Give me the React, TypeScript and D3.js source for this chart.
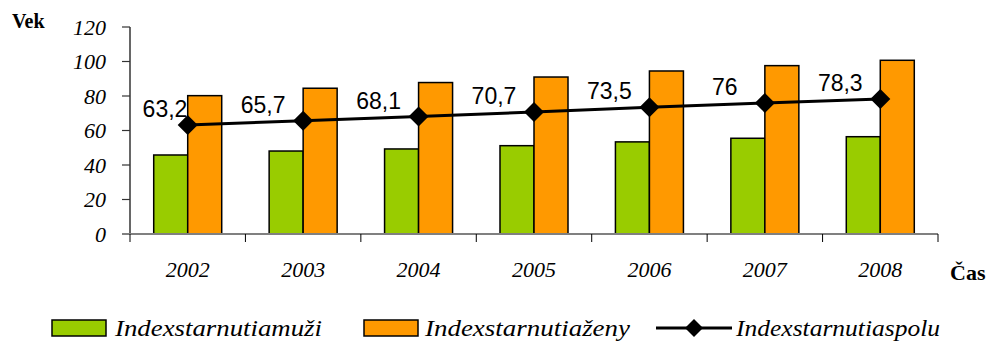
import React from "react";
import * as d3 from "d3";

const years = ["2002", "2003", "2004", "2005", "2006", "2007", "2008"];
const muzi = [45.8, 48.1, 49.3, 51.2, 53.4, 55.5, 56.4];
const zeny = [80.2, 84.5, 87.8, 91.0, 94.5, 97.6, 100.7];
const spolu = [63.2, 65.7, 68.1, 70.7, 73.5, 76, 78.3];
const spoluLabels = ["63,2", "65,7", "68,1", "70,7", "73,5", "76", "78,3"];
const yTicks = [0, 20, 40, 60, 80, 100, 120];
const seriesNames = ["Indexstarnutiamuži", "Indexstarnutiaženy", "Indexstarnutiaspolu"];

const W = 993;
const H = 342;
const x0 = 130;
const x1 = 938;
const yTop = 27;
const yBot = 234;
const GREEN = "#99CC00";
const ORANGE = "#FF9900";
const SERIF =
  '"Times New Roman", Times, Tinos, "Liberation Serif", "Noto Serif", "DejaVu Serif", FreeSerif, "Nimbus Roman", "Nimbus Roman No9 L", serif';
const SANS = '"Liberation Sans", Arial, sans-serif';

const serifItalic = { fontFamily: SERIF, fontStyle: "italic" as const };
const serifBold = { fontFamily: SERIF, fontWeight: 700 as const };

export default function App() {
  const x = d3.scaleBand<string>().domain(years).range([x0, x1]).padding(0);
  const y = d3.scaleLinear().domain([0, 120]).range([yBot, yTop]);
  const bw = 34;
  const line = d3
    .line<number>()
    .x((_, i) => (x(years[i]) as number) + x.bandwidth() / 2)
    .y((d) => y(d));
  const diamond = (cx: number, cy: number, r: number) =>
    `M${cx},${cy - r}L${cx + r},${cy}L${cx},${cy + r}L${cx - r},${cy}Z`;

  const boundaries = years.map((yr) => x(yr) as number).concat([x1]);

  return (
    <svg
      width={W}
      height={H}
      style={{ position: "absolute", left: 0, top: 0, background: "#fff" }}
    >
      {/* y axis */}
      <line x1={x0} x2={x0} y1={yTop} y2={yBot} stroke="#000" strokeWidth={1.2} />
      {yTicks.map((t) => (
        <g key={t}>
          <line x1={x0 - 8} x2={x0} y1={y(t)} y2={y(t)} stroke="#333" strokeWidth={1.2} />
          <text
            x={106}
            y={y(t)}
            dy="0.35em"
            textAnchor="end"
            style={{ ...serifItalic, fontSize: 22 }}
            fill="#000"
          >
            {t}
          </text>
        </g>
      ))}
      <text x={12} y={28} style={{ ...serifBold, fontSize: 20 }}>
        Vek
      </text>

      {/* bars */}
      {years.map((yr, i) => {
        const cx = (x(yr) as number) + x.bandwidth() / 2;
        return (
          <g key={yr}>
            <rect
              x={cx - bw}
              y={y(muzi[i])}
              width={bw}
              height={yBot - y(muzi[i])}
              fill={GREEN}
              stroke="#000"
              strokeWidth={1.5}
            />
            <rect
              x={cx}
              y={y(zeny[i])}
              width={bw}
              height={yBot - y(zeny[i])}
              fill={ORANGE}
              stroke="#000"
              strokeWidth={1.5}
            />
          </g>
        );
      })}

      {/* x axis */}
      <line x1={x0 - 8} x2={x1} y1={yBot} y2={yBot} stroke="#808080" strokeWidth={2} />
      {boundaries.map((bx, i) => (
        <line key={i} x1={bx} x2={bx} y1={yBot} y2={yBot + 8} stroke="#000" strokeWidth={1} />
      ))}
      {years.map((yr) => (
        <text
          key={yr}
          x={(x(yr) as number) + x.bandwidth() / 2}
          y={277}
          textAnchor="middle"
          style={{ ...serifItalic, fontSize: 22 }}
        >
          {yr}
        </text>
      ))}
      <text x={950} y={280} style={{ ...serifBold, fontSize: 22 }}>
        Čas
      </text>

      {/* line */}
      <path d={line(spolu) || ""} fill="none" stroke="#000" strokeWidth={3} />
      {spolu.map((v, i) => {
        const cx = (x(years[i]) as number) + x.bandwidth() / 2;
        return <path key={i} d={diamond(cx, y(v), 10)} fill="#000" />;
      })}
      {spolu.map((v, i) => {
        const cx = (x(years[i]) as number) + x.bandwidth() / 2;
        const lx = Math.max(cx - 40, x0 + 35);
        return (
          <text
            key={i}
            x={lx}
            y={y(v) - 8}
            textAnchor="middle"
            style={{ fontFamily: SANS, fontSize: 23 }}
            fill="#000"
          >
            {spoluLabels[i]}
          </text>
        );
      })}

      {/* legend */}
      <rect x={52} y={320} width={54} height={16} fill={GREEN} stroke="#000" strokeWidth={1.5} />
      <text x={115} y={336} style={{ ...serifItalic, fontSize: 23 }} textLength={207} lengthAdjust="spacingAndGlyphs">
        {seriesNames[0]}
      </text>
      <rect x={364} y={320} width={54} height={16} fill={ORANGE} stroke="#000" strokeWidth={1.5} />
      <text x={425} y={336} style={{ ...serifItalic, fontSize: 23 }} textLength={205} lengthAdjust="spacingAndGlyphs">
        {seriesNames[1]}
      </text>
      <line x1={656} x2={732} y1={328} y2={328} stroke="#000" strokeWidth={3} />
      <path d={diamond(694, 328, 9)} fill="#000" />
      <text x={736} y={336} style={{ ...serifItalic, fontSize: 23 }} textLength={204} lengthAdjust="spacingAndGlyphs">
        {seriesNames[2]}
      </text>
    </svg>
  );
}
